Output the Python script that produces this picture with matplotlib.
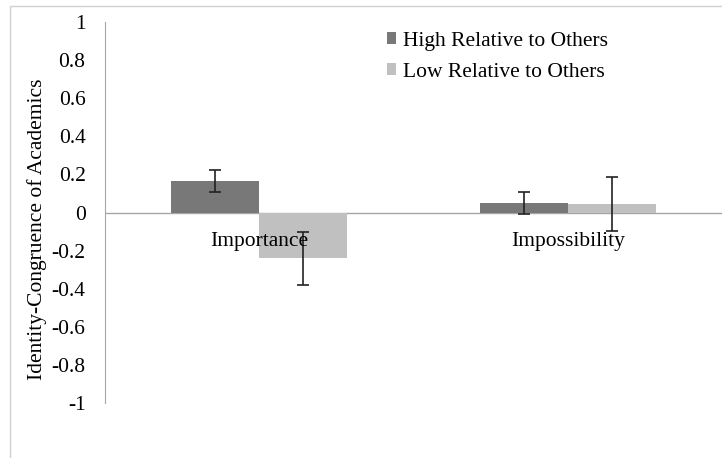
import numpy as np
import matplotlib.pyplot as plt
from matplotlib.patches import Rectangle

plt.rcParams['font.family'] = ['Liberation Serif', 'DejaVu Serif']

categories = ['Importance', 'Impossibility']
high_vals = [0.165, 0.05]
high_err = [0.06, 0.057]
low_vals = [-0.24, 0.045]
low_err = [0.14, 0.142]
yticks = [1, 0.8, 0.6, 0.4, 0.2, 0, -0.2, -0.4, -0.6, -0.8, -1]

fs = 15.5

fig = plt.figure(figsize=(7.22, 4.58), dpi=100)
# outer frame of the chart area
fig.patches.append(Rectangle((10 / 722, -0.1), 1.2, 1 - 6 / 458 + 0.1, transform=fig.transFigure,
                             fill=False, edgecolor='#d0d0d0', linewidth=1))
ax = fig.add_axes([105 / 722, 1 - 403 / 458, 1 - 105 / 722, (403 - 22) / 458])

x = np.arange(len(categories))
w = 0.286
ax.bar(x - w / 2, high_vals, w, color='#787878', label='High Relative to Others', zorder=2)
ax.bar(x + w / 2, low_vals, w, color='#c0c0c0', label='Low Relative to Others', zorder=2)
ax.errorbar(x - w / 2, high_vals, yerr=high_err, fmt='none', ecolor='#222222',
            elinewidth=1.2, capsize=4, capthick=1.2, zorder=3)
ax.errorbar(x + w / 2, low_vals, yerr=low_err, fmt='none', ecolor='#222222',
            elinewidth=1.2, capsize=4, capthick=1.2, zorder=3)

ax.set_xlim(-0.5, 1.5)
ax.set_ylim(-1, 1)
ax.axhline(0, color='#a6a6a6', linewidth=1, zorder=1)
for s in ['top', 'right', 'bottom']:
    ax.spines[s].set_visible(False)
ax.spines['left'].set_color('#a6a6a6')
ax.set_yticks(yticks)
ax.set_yticklabels([('%g' % v) for v in yticks])
ax.tick_params(axis='y', length=0, pad=14, labelsize=fs)
ax.set_xticks([])
for i, c in enumerate(categories):
    ax.text(x[i], -0.1, c, ha='center', va='top', fontsize=fs, zorder=4)

ax.set_ylabel('Identity-Congruence of Academics', fontsize=fs)
ax.yaxis.set_label_coords(-0.094, 0.457)
ax.legend(loc='upper left', bbox_to_anchor=(0.425, 1.025), frameon=False, fontsize=fs,
          handlelength=0.45, handleheight=0.45, handletextpad=0.3, labelspacing=0.55)

fig.savefig('out.png', dpi=100)
